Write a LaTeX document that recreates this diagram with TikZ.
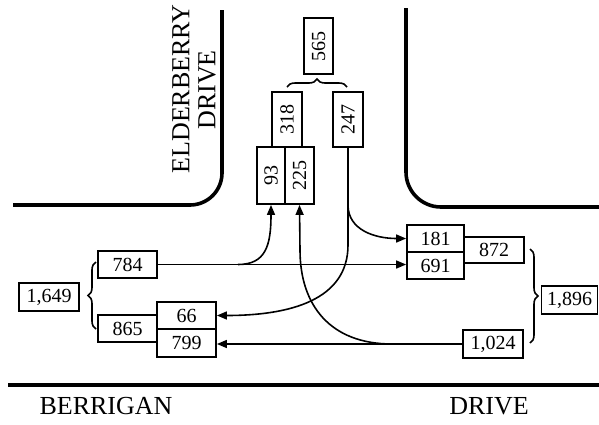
\documentclass[tikz,border=0pt]{standalone}
\usepackage{fontspec}
\setmainfont{Liberation Serif}
\usetikzlibrary{arrows.meta,decorations.pathreplacing}
\begin{document}
\begin{tikzpicture}[x=1pt,y=-1pt,
 box/.style={draw,line width=1.8pt,inner sep=0pt,font=\fontsize{20}{20}\selectfont},
 road/.style={line width=3.6pt},
 flow/.style={line width=1.6pt,-{Triangle[length=10pt,width=8pt]}},
 brc/.style={line width=1.6pt,decorate,decoration={brace,amplitude=8pt}},
 street/.style={inner sep=0pt,font=\fontsize{26}{26}\selectfont},
 vstreet/.style={inner sep=0pt,font=\fontsize{26}{26}\selectfont}]
\useasboundingbox (0,0) rectangle (599,424);
% roads
\draw[road,rounded corners=32pt] (13,205) -- (222,205) -- (222,10);
\draw[road,rounded corners=35pt] (406,8) -- (406,207) -- (599,207);
\draw[road] (8,385) -- (599,385);
% street names
\node[vstreet] (elder) at (181,89) {\rotatebox{90}{ELDERBERRY}};
\node[vstreet] (drive1) at (207,90) {\rotatebox{90}{DRIVE}};
\node[street] (berr) at (106,406.5) {BERRIGAN};
\node[street] (drive2) at (489,406.5) {DRIVE};
% boxes
\node[box,minimum width=29pt,minimum height=56pt] (n565) at (318.5,46) {\rotatebox{90}{565}};
\node[box,minimum width=30pt,minimum height=55pt] (n318) at (287,119.5) {\rotatebox{90}{318}};
\node[box,minimum width=30pt,minimum height=55pt] (n247) at (348,119.5) {\rotatebox{90}{247}};
\node[box,minimum width=28pt,minimum height=57pt] (n93) at (271,175.5) {\rotatebox{90}{93}};
\node[box,minimum width=29pt,minimum height=57pt] (n225) at (299.5,175.5) {\rotatebox{90}{225}};
\node[box,minimum width=59pt,minimum height=27pt] (n784) at (127.5,264.5) {784};
\node[box,minimum width=60pt,minimum height=28pt] (n1649) at (49,297) {1,649};
\node[box,minimum width=59pt,minimum height=27pt] (n865) at (127.5,328.5) {865};
\node[box,minimum width=59pt,minimum height=27pt] (n66) at (186.5,315.5) {66};
\node[box,minimum width=59pt,minimum height=28pt] (n799) at (186.5,343) {799};
\node[box,minimum width=57pt,minimum height=27pt] (n181) at (435.5,238.5) {181};
\node[box,minimum width=57pt,minimum height=27pt] (n691) at (435.5,265.5) {691};
\node[box,minimum width=60pt,minimum height=26pt] (n872) at (494,250) {872};
\node[box,minimum width=56pt,minimum height=28pt] (n1896) at (569.5,300) {1,896};
\node[box,minimum width=60pt,minimum height=28pt] (n1024) at (493,344) {1,024};
% braces
\draw[brc] (287,87) -- (347,87);
\draw[brc] (96,329) -- (96,262);
\draw[brc] (530,249) -- (530,343);
% flows
\draw[flow] (n784.east) -- (n784.east -| n691.west);
\coordinate (b784) at (238,264.5);
\draw[flow] (b784) .. controls (266,264.5) and (271,245) .. (n93.south);
\draw[flow] (n247.south) -- (348,205) .. controls (348,230) and (375,238.5) .. (n181.west);
\draw[flow] (n247.south) -- (348,245) .. controls (348,300) and (290,315.5) .. (n66.east);
\draw[flow] (n1024.west) -- (n1024.west -| n799.east);
\coordinate (b1024) at (392,344);
\draw[flow] (b1024) .. controls (330,344) and (300,305) .. (300,250) -- (n225.south);
\end{tikzpicture}
\end{document}
